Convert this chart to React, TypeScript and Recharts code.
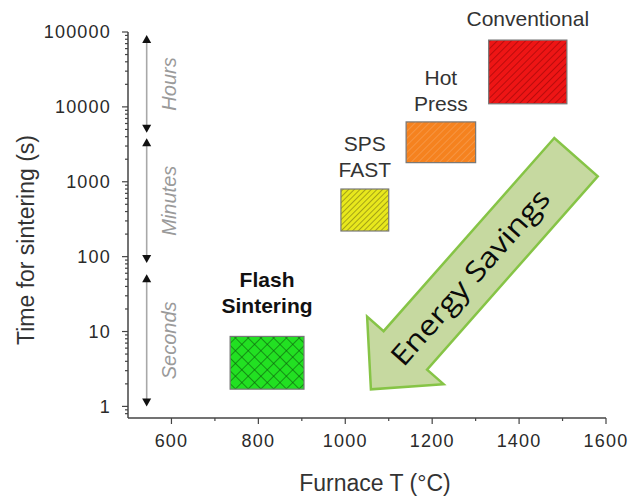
import React from "react";
import { ComposedChart, XAxis, YAxis, ReferenceArea, ReferenceLine, ReferenceDot, Scatter } from "recharts";

// sintering methods: furnace temperature range (°C) and time range (s)
const methods = ["Conventional", "Hot Press", "SPS FAST", "Flash Sintering"];
const labelLines = [["Conventional"], ["Hot", "Press"], ["SPS", "FAST"], ["Flash", "Sintering"]];
const tempLow = [1330, 1140, 990, 735];
const tempHigh = [1510, 1300, 1100, 905];
const timeLow = [11000, 1800, 220, 1.7];
const timeHigh = [78000, 6300, 800, 8.6];

// time scale brackets on the left
const scaleNames = ["Hours", "Minutes", "Seconds"];
const scaleTop = [91000, 3800, 58];
const scaleBottom = [4500, 82, 1];
const scaleTemp = 543;

// energy savings arrow (tail -> tip)
const arrowFrom = { x: 1531, y: 2130 };
const arrowTo = { x: 1059, y: 1.69 };

const xTicks = [600, 700, 800, 900, 1000, 1100, 1200, 1300, 1400, 1500, 1600];
const yMajor = [1, 10, 100, 1000, 10000, 100000];
const yTicks = [0.8, 0.9, ...yMajor.flatMap((m) => (m < 100000 ? [m, 2 * m, 3 * m, 4 * m, 5 * m, 6 * m, 7 * m, 8 * m, 9 * m] : [m]))];

// styling
const fills = ["url(#hatchRed)", "url(#hatchOrange)", "url(#hatchYellow)", "url(#crossGreen)"];
const labelGap = [22, 18, 20, 31];
const FONT = "'Liberation Sans', Arial, sans-serif";

const YTick = (props: any) => {
  const { x, y, payload } = props;
  const v = payload.value;
  const major = yMajor.includes(v);
  return (
    <g>
      <line x1={x - (major ? 6 : 3)} x2={x} y1={y} y2={y} stroke="#444" strokeWidth={1.2} />
      {major && (
        <text x={x - 17} y={y} dy="0.36em" textAnchor="end" fontFamily={FONT} fontSize={18} letterSpacing={1.2} fill="#2a2a2a">
          {v}
        </text>
      )}
    </g>
  );
};

const XTick = (props: any) => {
  const { x, y, payload } = props;
  const v = payload.value;
  const major = v % 200 === 0;
  return (
    <g>
      <line x1={x} x2={x} y1={y} y2={y + (major ? 6 : 3)} stroke="#444" strokeWidth={1.2} />
      {major && (
        <text x={x} y={y + 29} textAnchor="middle" fontFamily={FONT} fontSize={18} letterSpacing={1.2} fill="#2a2a2a">
          {v}
        </text>
      )}
    </g>
  );
};

const methodLabel = (i: number) => (p: any) => {
  const lines = labelLines[i];
  const bold = i === 3;
  return (
    <g>
      {lines.map((t, k) => (
        <text
          key={k}
          x={p.cx}
          y={p.cy - labelGap[i] - (lines.length - 1 - k) * 26}
          dy="0.36em"
          textAnchor="middle"
          fontFamily={FONT}
          fontSize={21}
          fontWeight={bold ? "bold" : "normal"}
          fill={bold ? "#111" : "#333"}
        >
          {t}
        </text>
      ))}
    </g>
  );
};

const rangeArrow = (name: string) => (p: any) => {
  const { x1, y1, y2 } = p;
  const top = Math.min(y1, y2);
  const bottom = Math.max(y1, y2);
  const mid = (top + bottom) / 2;
  return (
    <g>
      <line x1={x1} x2={x1} y1={top + 4} y2={bottom - 4} stroke="#a8a8a8" strokeWidth={1.6} />
      <polygon points={`${x1},${top} ${x1 - 4.5},${top + 8} ${x1 + 4.5},${top + 8}`} fill="#111" />
      <polygon points={`${x1},${bottom} ${x1 - 4.5},${bottom - 8} ${x1 + 4.5},${bottom - 8}`} fill="#111" />
      <text
        x={x1 + 22}
        y={mid}
        dy="0.36em"
        transform={`rotate(-90 ${x1 + 22} ${mid})`}
        textAnchor="middle"
        fontFamily={FONT}
        fontStyle="italic"
        fontSize={20}
        fill="#9a9a9a"
      >
        {name}
      </text>
    </g>
  );
};

const bigArrow = (p: any) => {
  const { x1, y1, x2, y2 } = p;
  const len = Math.hypot(x2 - x1, y2 - y1);
  const ux = (x2 - x1) / len;
  const uy = (y2 - y1) / len;
  const nx = -uy;
  const ny = ux;
  const shaft = 29;
  const head = 51;
  const headLen = 52;
  const neckX = x2 - ux * headLen;
  const neckY = y2 - uy * headLen;
  const pts = [
    [x1 + nx * shaft, y1 + ny * shaft],
    [neckX + nx * shaft, neckY + ny * shaft],
    [neckX + nx * head, neckY + ny * head],
    [x2, y2],
    [neckX - nx * head, neckY - ny * head],
    [neckX - nx * shaft, neckY - ny * shaft],
    [x1 - nx * shaft, y1 - ny * shaft],
  ];
  const tx = x1 + ux * 160;
  const ty = y1 + uy * 160;
  const ang = (Math.atan2(-uy, -ux) * 180) / Math.PI;
  return (
    <g>
      <polygon points={pts.map((q) => q.join(",")).join(" ")} fill="#c6d9a0" stroke="#86c446" strokeWidth={2.5} strokeLinejoin="miter" />
      <text
        x={tx}
        y={ty}
        dy="0.36em"
        transform={`rotate(${ang} ${tx} ${ty})`}
        textAnchor="middle"
        fontFamily="'Open Sans', sans-serif"
        fontSize={28}
        textLength={224}
        lengthAdjust="spacingAndGlyphs"
        fill="#0a0a0a"
      >
        Energy Savings
      </text>
    </g>
  );
};

const areaShape = (i: number) => (p: any) => (
  <rect x={p.x} y={p.y} width={p.width} height={p.height} fill={fills[i]} stroke="#777" strokeWidth={1.2} />
);

const anchorData = methods.map((m, i) => ({ x: (tempLow[i] + tempHigh[i]) / 2, y: timeHigh[i] }));

export default function App() {
  return (
    <div style={{ position: "absolute", left: 0, top: 0, background: "#fff" }}>
      <ComposedChart width={629} height={497} margin={{ top: 32, right: 23, bottom: 49, left: 10 }}>
        <defs>
          <pattern id="hatchRed" width="5" height="5" patternUnits="userSpaceOnUse" patternTransform="rotate(45)">
            <rect width="5" height="5" fill="#ee1515" />
            <line x1="0" y1="0" x2="0" y2="5" stroke="#a30808" strokeWidth="1.4" />
          </pattern>
          <pattern id="hatchOrange" width="5" height="5" patternUnits="userSpaceOnUse" patternTransform="rotate(45)">
            <rect width="5" height="5" fill="#f5821f" />
            <line x1="0" y1="0" x2="0" y2="5" stroke="#f8a45a" strokeWidth="1.2" />
          </pattern>
          <pattern id="hatchYellow" width="4" height="4" patternUnits="userSpaceOnUse" patternTransform="rotate(45)">
            <rect width="4" height="4" fill="#e8e81c" />
            <line x1="0" y1="0" x2="0" y2="4" stroke="#6e6a10" strokeWidth="1.1" />
          </pattern>
          <pattern id="crossGreen" width="9" height="9" patternUnits="userSpaceOnUse" patternTransform="rotate(45)">
            <rect width="9" height="9" fill="#22e022" />
            <line x1="0" y1="0" x2="0" y2="9" stroke="#0c5c0c" strokeWidth="1.2" />
            <line x1="0" y1="0" x2="9" y2="0" stroke="#0c5c0c" strokeWidth="1.2" />
          </pattern>
        </defs>
        <XAxis
          type="number"
          dataKey="x"
          domain={[500, 1600]}
          ticks={xTicks}
          interval={0}
          tickSize={0}
          tickMargin={0}
          tick={XTick}
          height={30}
          allowDataOverflow
          axisLine={{ stroke: "#444", strokeWidth: 1.5 }}
          label={{ value: "Furnace T (°C)", position: "bottom", offset: 27, dx: 8, fontSize: 23, fontFamily: FONT, fill: "#333" }}
        />
        <YAxis
          type="number"
          dataKey="y"
          scale="log"
          domain={[0.7, 100000]}
          ticks={yTicks}
          interval={0}
          tickSize={0}
          tickMargin={0}
          tick={YTick}
          width={118}
          allowDataOverflow
          axisLine={{ stroke: "#444", strokeWidth: 1.5 }}
          label={{ value: "Time for sintering (s)", angle: -90, position: "center", dx: -43, dy: 15, fontSize: 23, fontFamily: FONT, fill: "#333" }}
        />
        {methods.map((m, i) => (
          <ReferenceArea
            key={m}
            x1={tempLow[i]}
            x2={tempHigh[i]}
            y1={timeLow[i]}
            y2={timeHigh[i]}
            shape={areaShape(i)}
          />
        ))}
        {methods.map((m, i) => (
          <ReferenceDot key={m + "-label"} x={anchorData[i].x} y={anchorData[i].y} ifOverflow="visible" shape={methodLabel(i)} />
        ))}
        {scaleNames.map((n, i) => (
          <ReferenceLine
            key={n}
            segment={[
              { x: scaleTemp, y: scaleTop[i] },
              { x: scaleTemp, y: scaleBottom[i] },
            ]}
            shape={rangeArrow(n)}
          />
        ))}
        <ReferenceLine segment={[arrowFrom, arrowTo]} shape={bigArrow} />
        <Scatter data={anchorData} shape={() => <g />} isAnimationActive={false} />
      </ComposedChart>
    </div>
  );
}
